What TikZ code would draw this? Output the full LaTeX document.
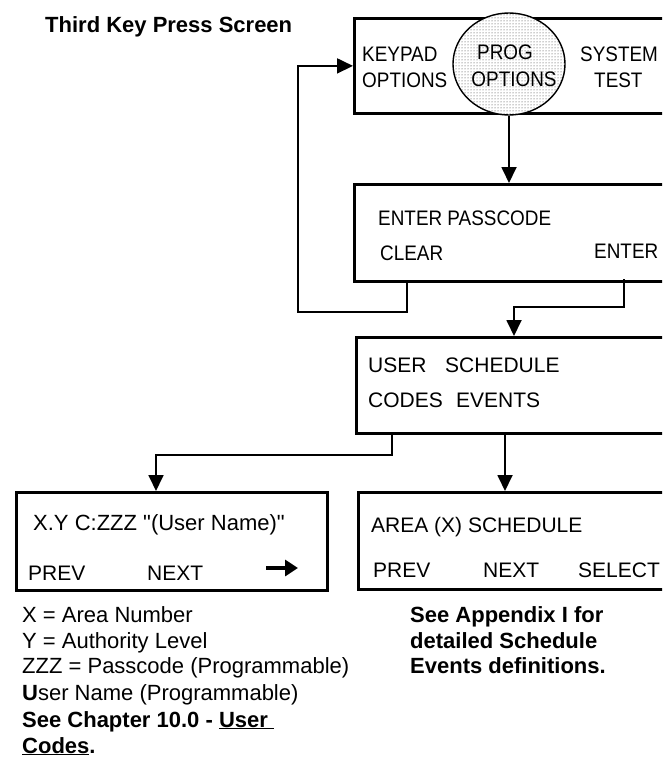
\documentclass[tikz,border=0pt]{standalone}
\usepackage{fontspec}
\setmainfont{Liberation Sans}
\newfontfamily\lcdfont[FakeStretch=0.9]{Liberation Sans}
\newfontfamily\lcdplain[Ligatures=TeXOff]{Liberation Sans}
\usetikzlibrary{arrows.meta}
\usetikzlibrary{patterns}
\usetikzlibrary{shapes.geometric}

\begin{document}
\begin{tikzpicture}[x=1pt,y=-1pt]
\tikzset{>={Triangle[length=16pt,width=15pt]}}
\tikzset{screen/.style={draw,line width=2.8pt,anchor=north west,inner sep=0pt},
  lcd/.style={anchor=base west,inner sep=0pt,font=\lcdfont\fontsize{21}{25}\selectfont},
  lcdwide/.style={anchor=base west,inner sep=0pt,font=\fontsize{21}{25}\selectfont},
  note/.style={anchor=base west,inner sep=0pt,font=\fontsize{22}{26}\selectfont},
  boldnote/.style={note,font=\bfseries\fontsize{22}{26}\selectfont},
  link/.style={line width=1.8pt}}

\useasboundingbox (0,0) rectangle (662,765);
\clip (0,0) rectangle (662,765);

\node[boldnote] (title) at (45,33) {Third Key Press Screen};

\node[screen,minimum width=400pt,minimum height=95pt] (menu) at (353,17) {};
\node[ellipse,draw,line width=1.4pt,minimum width=112pt,minimum height=102pt,
  preaction={fill=white},pattern=dots,pattern color=black!80] (prog) at (509,64) {};
\node[lcd] (keypad) at (362,62) {KEYPAD};
\node[lcd] (keyopt) at (362,88) {OPTIONS};
\node[lcd,anchor=base] (progname) at (505,60) {PROG};
\node[lcd,anchor=base] (progopt) at (514,87) {OPTIONS};
\node[lcd] (system) at (580,62) {SYSTEM};
\node[lcd] (test) at (594,88) {TEST};

\node[screen,minimum width=400pt,minimum height=97pt] (pass) at (353,183) {};
\node[lcd] (passcode) at (378,225) {ENTER PASSCODE};
\node[lcd] (clear) at (380,260) {CLEAR};
\node[lcd] (enter) at (594,258) {ENTER};

\node[screen,minimum width=400pt,minimum height=96pt] (progmenu) at (355,336) {};
\node[lcdwide] (user) at (368,372) {USER};
\node[lcdwide] (codes) at (368,407) {CODES};
\node[lcdwide] (sched) at (445,372) {SCHEDULE};
\node[lcdwide] (events) at (456,407) {EVENTS};

\node[screen,minimum width=311pt,minimum height=98pt] (usercode) at (15,491) {};
\node[lcdwide,font=\lcdplain\fontsize{22}{26}\selectfont] (userline) at (33,530) {X.Y C:ZZZ "(User Name)"};
\node[lcdwide] (userprev) at (28,580) {PREV};
\node[lcdwide] (usernext) at (147,580) {NEXT};
\coordinate (moreA) at (266,568);
\coordinate (moreB) at (298,568);
\draw[line width=3.8pt,-{Triangle[length=13pt,width=16pt]}] (moreA) -- (moreB);

\node[screen,minimum width=400pt,minimum height=97pt] (schedule) at (357,491) {};
\node[lcdwide] (area) at (371,532) {AREA (X) SCHEDULE};
\node[lcdwide] (schprev) at (373,577) {PREV};
\node[lcdwide] (schnext) at (483,577) {NEXT};
\node[lcdwide] (select) at (578,577) {SELECT};

\coordinate (clearout) at (407,280);
\coordinate (loopturn) at (298,312);
\coordinate (enterout) at (624,279);
\coordinate (enterturn) at (514,307);
\coordinate (userturn) at (392,455);
\coordinate (userin) at (156,455);
\coordinate (schdrop) at (505,432);

\draw[link,->] (prog.south) -- (prog.south |- pass.north);
\draw[link,->] (clearout) -- (clearout |- loopturn) -- (loopturn) |- (menu.west);
\draw[link,->] (enterout) |- (enterturn) -- (enterturn |- progmenu.north);
\draw[link,->] (progmenu.south -| userturn) -- (userturn) -- (userin) -- (userin |- usercode.north);
\draw[link,->] (schdrop) -- (schdrop |- schedule.north);

\node[note] (areanum) at (22,622) {X = Area Number};
\node[note] (authlev) at (22,648) {Y = Authority Level};
\node[note] (passprog) at (22,673) {ZZZ = Passcode (Programmable)};
\node[note] (nameprog) at (22,700) {\textbf{U}ser Name (Programmable)};
\node[boldnote] (chapter) at (22,727) {See Chapter 10.0 - \underline{User\ }};
\node[boldnote] (chapcodes) at (22,753) {\underline{Codes}.};

\node[boldnote] (appendix) at (410,622) {See Appendix I for};
\node[boldnote] (detailed) at (410,648) {detailed Schedule};
\node[boldnote] (eventdef) at (410,673) {Events definitions.};

\end{tikzpicture}
\end{document}
